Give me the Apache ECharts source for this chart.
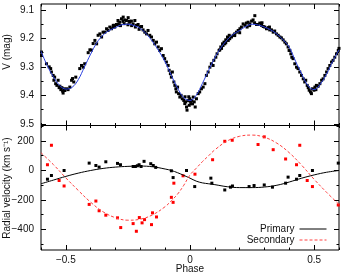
<!DOCTYPE html>
<html><head><meta charset="utf-8">
<script src="https://cdn.jsdelivr.net/npm/echarts@6/dist/echarts.min.js"></script>
<style>html,body{margin:0;padding:0;background:#fff}#c{width:342px;height:275px}</style>
</head><body><div id="c"></div>
<script>
// ---- tick values ----
const xMajor = [-0.5, 0, 0.5];
const xMinor = [-0.6, -0.4, -0.3, -0.2, -0.1, 0.1, 0.2, 0.3, 0.4, 0.6];
const vMajor = [9.1, 9.2, 9.3, 9.4, 9.5];
const vMinor = [9.15, 9.25, 9.35, 9.45];
const rvMajor = [200, 0, -200, -400];
const rvMinor = [300, 100, -100, -300, -500];

// ---- light curve fit (blue) ----
const fitPhase = [-0.6,-0.575,-0.55,-0.525,-0.5,-0.475,-0.45,-0.425,-0.4,-0.375,-0.35,-0.325,-0.3,-0.275,-0.25,-0.225,-0.2,-0.175,-0.15,-0.125,-0.1,-0.075,-0.05,-0.025,0,0.025,0.05,0.075,0.1,0.125,0.15,0.175,0.2,0.225,0.25,0.275,0.3,0.325,0.35,0.375,0.4,0.425,0.45,0.475,0.5,0.525,0.55,0.575,0.6];
const fitMag = [9.245,9.295,9.335,9.365,9.378,9.372,9.345,9.300,9.255,9.215,9.188,9.172,9.162,9.152,9.150,9.155,9.165,9.185,9.212,9.245,9.283,9.330,9.375,9.408,9.418,9.400,9.358,9.312,9.268,9.232,9.205,9.185,9.172,9.158,9.150,9.153,9.160,9.170,9.185,9.205,9.232,9.280,9.325,9.366,9.380,9.360,9.325,9.280,9.240];

// ---- light curve observations [phase, V] ----
const lcObs = [
[-0.598,9.248],[-0.598,9.260],[-0.578,9.289],[-0.567,9.300],[-0.561,9.306],[-0.558,9.318],[-0.551,9.330],[-0.548,9.347],[-0.545,9.336],[-0.541,9.359],[-0.536,9.365],[-0.531,9.347],[-0.527,9.373],[-0.524,9.368],[-0.520,9.380],[-0.516,9.373],[-0.513,9.385],[-0.511,9.392],[-0.508,9.377],[-0.504,9.383],[-0.497,9.377],[-0.491,9.380],[-0.484,9.371],[-0.477,9.347],[-0.473,9.341],[-0.468,9.353],[-0.460,9.336],[-0.444,9.306],[-0.437,9.295],[-0.430,9.301],[-0.424,9.289],[-0.410,9.250],[-0.403,9.240],[-0.397,9.241],[-0.390,9.218],[-0.383,9.207],[-0.376,9.219],[-0.370,9.189],[-0.363,9.184],[-0.356,9.195],[-0.350,9.178],[-0.343,9.178],[-0.336,9.166],[-0.330,9.172],[-0.323,9.160],[-0.316,9.166],[-0.309,9.154],[-0.303,9.160],[-0.296,9.151],[-0.289,9.149],[-0.283,9.154],
[-0.310,9.160],[-0.303,9.154],[-0.290,9.137],[-0.283,9.143],[-0.276,9.131],[-0.269,9.125],[-0.263,9.135],[-0.256,9.137],[-0.249,9.127],[-0.242,9.143],[-0.236,9.139],[-0.229,9.149],[-0.222,9.137],[-0.216,9.154],[-0.209,9.151],[-0.202,9.160],[-0.195,9.158],[-0.189,9.170],[-0.280,9.155],[-0.265,9.148],[-0.250,9.152],[-0.235,9.155],[-0.220,9.160],[-0.205,9.168],[-0.245,9.140],[-0.270,9.140],
[-0.182,9.178],[-0.175,9.184],[-0.169,9.172],[-0.162,9.189],[-0.155,9.195],[-0.148,9.207],[-0.142,9.219],[-0.135,9.213],[-0.128,9.230],[-0.122,9.242],[-0.115,9.236],[-0.108,9.260],[-0.102,9.271],[-0.095,9.283],[-0.088,9.295],[-0.084,9.312],[-0.079,9.324],[-0.075,9.336],[-0.071,9.318],
[-0.065,9.353],[-0.061,9.365],[-0.057,9.377],[-0.055,9.388],[-0.050,9.371],[-0.046,9.394],[-0.041,9.406],[-0.036,9.400],[-0.031,9.412],[-0.025,9.418],[-0.021,9.429],[-0.017,9.423],[-0.014,9.441],[-0.012,9.452],[-0.008,9.418],[-0.003,9.435],[-0.001,9.412],[0.003,9.429],[0.007,9.418],[0.013,9.406],[0.017,9.423],[0.021,9.441],[0.026,9.412],[0.033,9.394],[0.039,9.388],[0.046,9.377],[0.053,9.371],[0.060,9.359],[-0.005,9.405],[0.000,9.420],[0.010,9.430],[-0.020,9.405],
[0.066,9.330],[0.073,9.318],[0.080,9.301],[0.086,9.289],[0.093,9.295],[0.096,9.277],[0.104,9.266],[0.109,9.254],[0.117,9.242],[0.124,9.230],[0.131,9.219],[0.137,9.213],[0.144,9.205],[0.151,9.195],[0.158,9.189],
[0.120,9.240],[0.127,9.235],[0.133,9.225],[0.140,9.219],[0.144,9.215],[0.150,9.205],[0.154,9.207],[0.160,9.201],[0.167,9.195],[0.174,9.189],[0.180,9.184],[0.187,9.178],[0.194,9.172],[0.201,9.166],[0.207,9.160],[0.214,9.149],[0.221,9.154],[0.227,9.146],[0.234,9.143],[0.241,9.149],[0.248,9.139],[0.254,9.135],[0.261,9.120],[0.268,9.151],[0.274,9.151],[0.281,9.146],[0.288,9.154],[0.295,9.158],[0.301,9.160],[0.308,9.166],[0.315,9.162],[0.321,9.170],[0.328,9.170],[0.335,9.178],[0.341,9.174],[0.348,9.184],[0.355,9.189],[0.362,9.195],[0.368,9.198],[0.375,9.205],[0.382,9.213],[0.388,9.219],[0.395,9.230],[0.399,9.242],[0.200,9.180],[0.230,9.160],[0.260,9.145],[0.290,9.145],[0.320,9.160],[0.180,9.190],[0.240,9.155],
[0.402,9.242],[0.406,9.254],[0.410,9.266],[0.415,9.271],[0.422,9.289],[0.429,9.301],[0.435,9.306],[0.442,9.318],[0.449,9.330],[0.456,9.342],[0.462,9.353],[0.466,9.347],[0.472,9.365],[0.476,9.373],[0.480,9.382],[0.485,9.388],[0.489,9.394],[0.493,9.377],[0.499,9.382],[0.503,9.371],[0.507,9.380],[0.509,9.365],
[0.516,9.368],[0.523,9.359],[0.530,9.347],[0.536,9.342],[0.543,9.330],[0.550,9.318],[0.556,9.306],[0.563,9.295],[0.570,9.283],[0.576,9.277],[0.583,9.266],[0.590,9.254],[0.597,9.242],[0.600,9.235]
];

// ---- radial velocity fits ----
const rvPhase = [-0.6,-0.55,-0.5,-0.45,-0.4,-0.35,-0.3,-0.25,-0.2,-0.15,-0.1,-0.075,-0.05,-0.025,0,0.025,0.05,0.075,0.1,0.15,0.2,0.25,0.3,0.35,0.4,0.45,0.5,0.55,0.6];
const rvPrimaryFit = [-90,-65,-40,-18,0,14,23,28,30,25,10,0,-15,-33,-52,-72,-84,-90,-96,-110,-116,-116,-112,-100,-78,-52,-30,-12,0];
const rvSecondaryFit = [120,40,-50,-135,-215,-280,-320,-337,-330,-300,-245,-205,-160,-100,-30,15,60,100,140,200,232,240,225,185,120,35,-60,-148,-230];

// ---- radial velocity observations [phase, km/s] ----
const rvPrimaryObs = [[-0.574,-59],[-0.558,-34],[-0.507,0],[-0.406,50],[-0.379,34],[-0.366,23],[-0.339,59],[-0.292,48],[-0.280,39],[-0.229,27],[-0.220,27],[-0.212,32],[-0.205,39],[-0.197,27],[-0.185,62],[-0.158,46],[-0.148,34],[-0.138,21],[-0.075,-2],[-0.068,-48],[-0.014,0],[0.019,-109],[0.084,-52],[0.088,-86],[0.140,-132],[0.163,-113],[0.171,-105],[0.238,-109],[0.258,-102],[0.299,-98],[0.332,-113],[0.385,-86],[0.395,-45],[0.429,-59],[0.442,-34],[0.493,0],[0.597,50]];
const rvSecondaryObs = [[-0.574,39],[-0.558,171],[-0.527,-68],[-0.507,-105],[-0.406,-230],[-0.379,-207],[-0.366,-273],[-0.339,-303],[-0.292,-321],[-0.279,-387],[-0.229,-360],[-0.216,-412],[-0.204,-319],[-0.193,-355],[-0.183,-333],[-0.155,-367],[-0.151,-287],[-0.135,-315],[-0.075,-182],[-0.068,-216],[-0.065,-86],[-0.028,-36],[0.020,-25],[0.091,73],[0.140,198],[0.170,205],[0.274,176],[0.299,228],[0.335,141],[0.385,78],[0.429,39],[0.442,171],[0.472,-68],[0.493,-109],[0.597,-234]];

// ---- layout ----
const FONT = 'Liberation Sans, Arial, sans-serif';
const TXT = '#111';
const fmt = v => (v < 0 ? '\u2212' + String(Math.abs(v)) : String(v));

function makeAxes(dim, gridIndex, min, max, major, minor, labelSide, extra) {
  const sides = dim === 'x' ? ['bottom', 'top'] : ['left', 'right'];
  const out = [];
  sides.forEach(pos => {
    [[major, 5], [minor, 2.5]].forEach(([vals, len], k) => {
      const showLabel = pos === labelSide && k === 0;
      const ax = Object.assign({
        type: 'value', gridIndex, position: pos, min, max,
        axisLine: { show: false, onZero: false },
        splitLine: { show: false },
        axisTick: { show: true, inside: true, length: len, customValues: vals, lineStyle: { color: '#000', width: 1 } },
        axisLabel: { show: showLabel, customValues: vals, formatter: fmt, fontFamily: FONT, fontSize: 10, color: TXT, margin: dim === 'x' ? 5 : 7 }
      }, extra || {});
      out.push(ax);
    });
  });
  return out;
}

const xAxes = [].concat(
  makeAxes('x', 0, -0.6, 0.6, xMajor, xMinor, null),
  makeAxes('x', 1, -0.6, 0.6, xMajor, xMinor, 'bottom')
);
const yAxes = [].concat(
  makeAxes('y', 0, 9.079, 9.506, vMajor, vMinor, 'left', { inverse: true }),
  makeAxes('y', 1, -539, 305, rvMajor, rvMinor, 'left')
);
yAxes[0].axisLabel.formatter = v => v.toFixed(1);

const legendBase = { right: 15, align: 'right', orient: 'vertical', itemWidth: 27, itemHeight: 9, padding: 0,
  itemStyle: { opacity: 0, borderWidth: 0 },
  lineStyle: { width: 1 },
  textStyle: { fontFamily: FONT, fontSize: 10, color: TXT } };

const option = {
  animation: false,
  backgroundColor: '#fff',
  grid: [
    { left: 41, right: 3, top: 4, height: 121.5, show: true, borderColor: '#000', borderWidth: 1, backgroundColor: 'transparent' },
    { left: 41, right: 3, top: 125.5, height: 124.5, show: true, borderColor: '#000', borderWidth: 1, backgroundColor: 'transparent' }
  ],
  xAxis: xAxes,
  yAxis: yAxes,
  legend: [
    Object.assign({ data: ['Primary'], top: 224 }, legendBase),
    Object.assign({ data: ['Secondary'], top: 235 }, legendBase)
  ],
  graphic: [
    { type: 'text', x: 7, y: 52, rotation: Math.PI / 2, style: { text: 'V (mag)', fontFamily: FONT, fontSize: 10, fill: TXT, align: 'center', verticalAlign: 'middle' } },
    { type: 'text', x: 7, y: 188, rotation: Math.PI / 2, style: { text: 'Radial velocity (km s\u207B\u00B9)', fontFamily: FONT, fontSize: 10, fill: TXT, align: 'center', verticalAlign: 'middle' } },
    { type: 'text', x: 190, y: 269.5, style: { text: 'Phase', fontFamily: FONT, fontSize: 10, fill: TXT, align: 'center', verticalAlign: 'middle' } }
  ],
  series: [
    { type: 'scatter', name: 'lc', xAxisIndex: 0, yAxisIndex: 0, data: lcObs, symbol: 'rect', symbolSize: 3, itemStyle: { color: '#000', opacity: 1 }, silent: true },
    { type: 'line', name: 'fit', xAxisIndex: 0, yAxisIndex: 0, data: fitPhase.map((p, i) => [p, fitMag[i]]), smooth: 0.4, symbol: 'none', lineStyle: { color: '#2a3fe0', width: 1 }, z: 3 },
    { type: 'scatter', name: 'pObs', xAxisIndex: 4, yAxisIndex: 4, data: rvPrimaryObs, symbol: 'rect', symbolSize: 3, itemStyle: { color: '#000', opacity: 1 } },
    { type: 'scatter', name: 'sObs', xAxisIndex: 4, yAxisIndex: 4, data: rvSecondaryObs, symbol: 'rect', symbolSize: 3, itemStyle: { color: '#ff0000', opacity: 1 } },
    { type: 'line', name: 'Primary', xAxisIndex: 4, yAxisIndex: 4, data: rvPhase.map((p, i) => [p, rvPrimaryFit[i]]), smooth: 0.4, symbol: 'none', color: '#000', lineStyle: { color: '#000', width: 1 }, z: 3 },
    { type: 'line', name: 'Secondary', xAxisIndex: 4, yAxisIndex: 4, data: rvPhase.map((p, i) => [p, rvSecondaryFit[i]]), smooth: 0.4, symbol: 'none', color: '#ff4040', lineStyle: { color: '#ff4040', width: 1, type: [3, 2] }, z: 3 }
  ]
};
echarts.init(document.getElementById('c'), null, { renderer: 'canvas' }).setOption(option);
</script></body></html>
